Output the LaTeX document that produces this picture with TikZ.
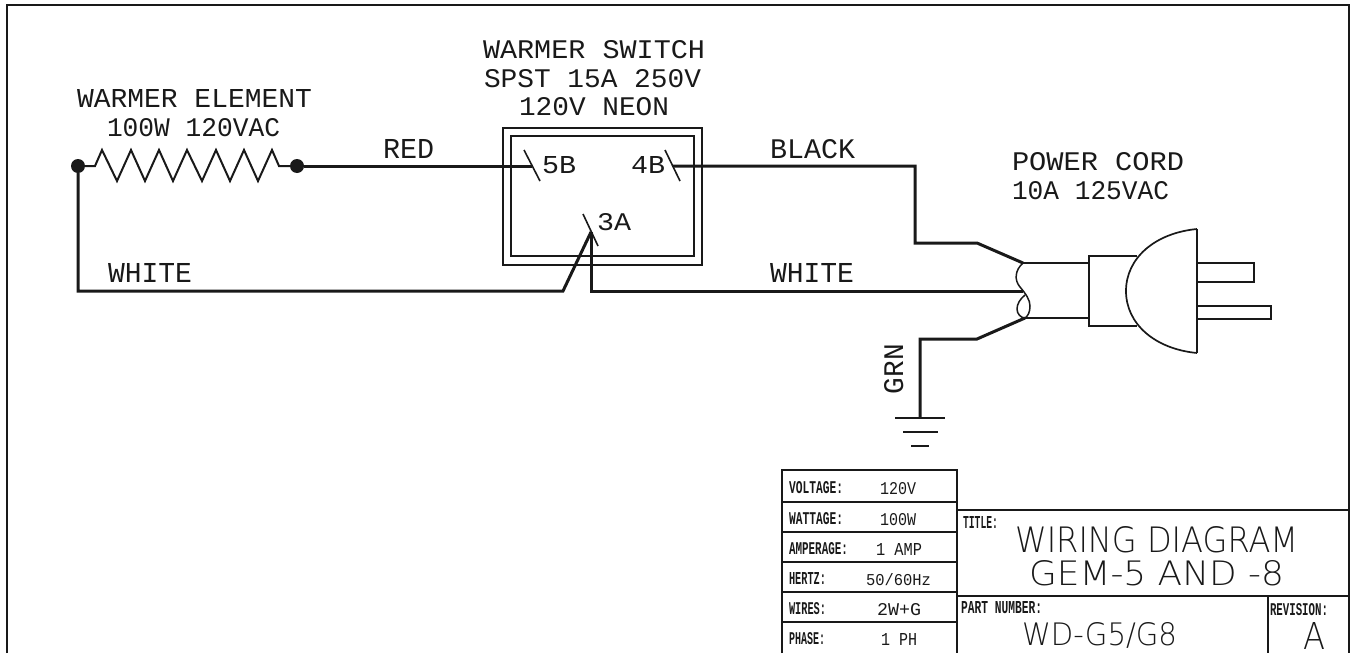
\documentclass[tikz,border=0pt]{standalone}
\usepackage{fontspec}
\setmainfont{Liberation Mono}
\newfontfamily\lightcad{DejaVu Sans ExtraLight}
\newfontfamily\boldcad{Liberation Mono Bold}
\newcommand{\tx}[3]{\resizebox{#1pt}{#2pt}{#3}}
\begin{document}
\begin{tikzpicture}[x=1pt,y=-1pt,
  wire/.style={line width=3pt,line join=miter,black!90},
  frame/.style={line width=2.2pt,black!90},
  thinline/.style={line width=1.7pt,black!90},
  cordline/.style={line width=1.5pt,black!90},
  tick/.style={line width=1.6pt,black!90},
  dot/.style={circle,fill=black!90,inner sep=0pt,minimum size=14pt},
  lab/.style={anchor=base west,inner sep=0pt,outer sep=0pt,black!90},
  small/.style={lab,font=\boldcad},
  big/.style={lab,font=\lightcad}]
\useasboundingbox (0,0) rectangle (1356,653);
% border
\coordinate (bl) at (7,653); \coordinate (tl) at (7,5);
\coordinate (tr) at (1349,5); \coordinate (br) at (1349,653);
\draw[line width=2.6pt,black!90] (bl) -- (tl) -- (tr) -- (br);
% resistor
\node[dot] (d1) at (78,166) {};
\node[dot] (d2) at (297,166) {};
\draw[line width=2pt,black!90] (d1) -- (95,166) -- (102,150) -- (117,181) -- (131,150) -- (145,181) -- (159,150) -- (173,181) -- (187,150) -- (202,181) -- (216,150) -- (230,181) -- (244,150) -- (258,181) -- (272,150) -- (279,166) -- (d2);
\node[lab] (t1) at (77,107) {\tx{235}{18}{WARMER ELEMENT}};
\node[lab] (t2) at (107,136) {\tx{173}{18}{100W 120VAC}};
% switch
\coordinate (sa) at (503,128); \coordinate (sb) at (702,265);
\coordinate (sc) at (511,136); \coordinate (sd) at (694,256);
\draw[frame] (sa) rectangle (sb);
\draw[frame] (sc) rectangle (sd);
\coordinate (t5a) at (524,150); \coordinate (t5b) at (540,181);
\coordinate (t4a) at (665,150); \coordinate (t4b) at (680,181);
\coordinate (t3a) at (583,214); \coordinate (t3b) at (598,246);
\draw[tick] (t5a) -- (t5b);
\draw[tick] (t4a) -- (t4b);
\draw[tick] (t3a) -- (t3b);
\coordinate (w5) at (532,166); \coordinate (w4) at (673,166);
\coordinate (w3) at (591,232);
\node[lab] (l5) at (542,173) {\tx{34}{17}{5B}};
\node[lab] (l4) at (631,173) {\tx{34}{17}{4B}};
\node[lab] (l3) at (597,230) {\tx{34}{17}{3A}};
\node[lab] (t3) at (483,58) {\tx{222}{18}{WARMER SWITCH}};
\node[lab] (t4) at (484,87) {\tx{217}{18}{SPST 15A 250V}};
\node[lab] (t5) at (519,115) {\tx{150}{18}{120V NEON}};
% wires
\coordinate (c1) at (915,166); \coordinate (c2) at (915,243); \coordinate (c3) at (977,243);
\coordinate (top) at (1023,263); \coordinate (mid) at (1023,291); \coordinate (bot) at (1025,318);
\coordinate (l1) at (78,291); \coordinate (l2) at (563,291); \coordinate (r1) at (591,291);
\coordinate (g1) at (977,339); \coordinate (g2) at (920,339); \coordinate (g3) at (920,418);
\draw[wire] (d2) -- (w5);
\draw[wire] (w4) -- (c1) -- (c2) -- (c3) -- (top);
\draw[wire] (d1) -- (l1) -- (l2) -- (w3);
\draw[wire] (w3) -- (r1) -- (mid);
\draw[wire] (bot) -- (g1) -- (g2) -- (g3);
\node[lab] (red) at (383,158) {\tx{51}{19}{RED}};
\node[lab] (blk) at (770,158) {\tx{85}{19}{BLACK}};
\node[lab] (wl) at (108,282) {\tx{84}{19}{WHITE}};
\node[lab] (wr) at (770,282) {\tx{84}{19}{WHITE}};
\node[lab,rotate=90] (grn) at (903,394) {\tx{50}{19}{GRN}};
% ground
\coordinate (g1a) at (895,418); \coordinate (g1b) at (945,418);
\coordinate (g2a) at (903,432); \coordinate (g2b) at (938,432);
\coordinate (g3a) at (911,446); \coordinate (g3b) at (929,446);
\draw[thinline] (g1a) -- (g1b);
\draw[thinline] (g2a) -- (g2b);
\draw[thinline] (g3a) -- (g3b);
% cord
\coordinate (cuffa) at (1089,256); \coordinate (cuffb) at (1089,326);
\coordinate (cufft) at (1089,263); \coordinate (cuffl) at (1089,318);
\coordinate (ka) at (1137,256); \coordinate (kb) at (1137,326);
\draw[cordline] (top) -- (cufft);
\draw[cordline] (bot) -- (cuffl);
\draw[cordline] (top) .. controls (1015,270) and (1014,280) .. (1020,287) .. controls (1026,294) and (1030,300) .. (1030,306) .. controls (1030,312) and (1028,316) .. (bot);
\draw[cordline] (1025,295) .. controls (1020,299) and (1017,304) .. (1017,309) .. controls (1017,314) and (1021,318) .. (bot);
\draw[thinline] (ka) -- (cuffa) -- (cuffb) -- (kb);
\coordinate (pt) at (1197,229); \coordinate (pb) at (1197,353); \coordinate (pl) at (1126,291);
\draw[thinline] (pt) -- (pb);
\draw[thinline] (pt) .. controls (1155,233) and (1126,258) .. (pl) .. controls (1126,324) and (1155,349) .. (pb);
\coordinate (p1a) at (1197,263); \coordinate (p1b) at (1254,263); \coordinate (p1c) at (1254,282); \coordinate (p1d) at (1197,282);
\coordinate (p2a) at (1197,306); \coordinate (p2b) at (1271,306); \coordinate (p2c) at (1271,319); \coordinate (p2d) at (1197,319);
\draw[thinline] (p1a) -- (p1b) -- (p1c) -- (p1d);
\draw[thinline] (p2a) -- (p2b) -- (p2c) -- (p2d);
\node[lab] (t6) at (1012,170) {\tx{172}{18}{POWER CORD}};
\node[lab] (t7) at (1012,199) {\tx{157}{18}{10A 125VAC}};
% table
\coordinate (ta) at (782,470); \coordinate (tb) at (957,653);
\draw[thinline] (ta |- tb) -- (ta) -- (ta -| tb) -- (tb);
\foreach \yy in {502,532,562,592,622}{\draw[thinline] (782,\yy) -- (957,\yy);}
\draw[thinline] (957,510) -- (1349,510);
\draw[thinline] (957,596) -- (1349,596);
\draw[thinline] (1268,596) -- (1268,653);
\node[small] (a1) at (789,493) {\tx{54}{12}{VOLTAGE:}};
\node[small] (a2) at (789,524) {\tx{54}{12}{WATTAGE:}};
\node[small] (a3) at (789,554) {\tx{59}{12}{AMPERAGE:}};
\node[small] (a4) at (789,584) {\tx{37}{12}{HERTZ:}};
\node[small] (a5) at (789,614) {\tx{37}{12}{WIRES:}};
\node[small] (a6) at (789,644) {\tx{36}{12}{PHASE:}};
\node[lab] (b1) at (880,494) {\tx{36}{12}{120V}};
\node[lab] (b2) at (880,525) {\tx{36}{12}{100W}};
\node[lab] (b3) at (876,555) {\tx{46}{12}{1 AMP}};
\node[lab] (b4) at (866,585) {\tx{65}{12}{50/60Hz}};
\node[lab] (b5) at (877,615) {\tx{44}{12}{2W+G}};
\node[lab] (b6) at (881,645) {\tx{36}{12}{1 PH}};
\node[small] (h1) at (963,528) {\tx{35}{12}{TITLE:}};
\node[small] (h2) at (961,613) {\tx{81}{12}{PART NUMBER:}};
\node[small] (h3) at (1270,615) {\tx{58}{12}{REVISION:}};
\node[big] (m1) at (1015,552) {\tx{283}{26}{WIRING DIAGRAM}};
\node[big] (m2) at (1029,585) {\tx{255}{25}{GEM-5 AND -8}};
\node[big] (m3) at (1022,645) {\tx{155}{23}{WD-G5\smash{/}G8}};
\node[big] (m4) at (1303,649) {\tx{22}{27}{A}};
\end{tikzpicture}
\end{document}
